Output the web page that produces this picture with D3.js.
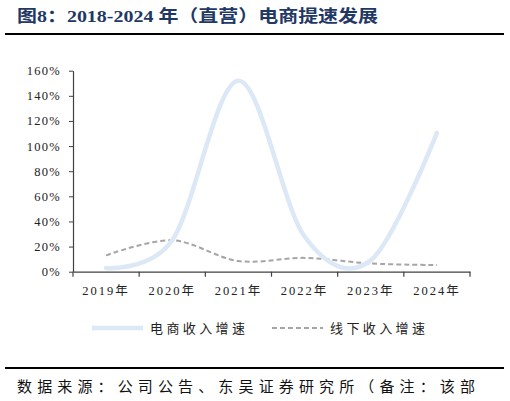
<!DOCTYPE html>
<html>
<head>
<meta charset="utf-8">
<script src="https://cdn.jsdelivr.net/npm/d3@7"></script>
<style>
  body { margin: 0; background: #fff; }
  svg { display: block; }
</style>
</head>
<body>
<div id="chart"></div>
<script>
// 数据
var years = ["2019年", "2020年", "2021年", "2022年", "2023年", "2024年"];
var ecomGrowth = [3, 25, 152, 28, 9, 110.5];     // 电商收入增速 (%)
var offlineGrowth = [13, 25, 8.5, 11, 6.5, 5.3];  // 线下收入增速 (%)
var yTicks = [0, 20, 40, 60, 80, 100, 120, 140, 160];
var seriesNames = ["电商收入增速", "线下收入增速"];

var W = 510, H = 401;
var pLeft = 73, pRight = 470, pTop = 70.7, pBottom = 271.7;
var cjk = "'Noto Sans CJK SC', sans-serif";
var serifNum = "'Liberation Serif', 'Noto Sans CJK SC', serif";

var svg = d3.select("#chart").append("svg").attr("width", W).attr("height", H);

// 标题
svg.append("text")
  .attr("x", 17).attr("y", 22)
  .attr("font-family", serifNum)
  .attr("font-size", 17).attr("font-weight", "bold")
  .attr("fill", "#1f3864")
  .attr("textLength", 361).attr("lengthAdjust", "spacingAndGlyphs")
  .text("图8：2018-2024 年（直营）电商提速发展");

svg.append("line").attr("x1", 5).attr("x2", 504).attr("y1", 34).attr("y2", 34)
  .attr("stroke", "#000").attr("stroke-width", 2);

var x = d3.scaleBand().domain(years).range([pLeft, pRight]);
var y = d3.scaleLinear().domain([0, 160]).range([pBottom, pTop]);

// y 轴
var yAxis = svg.append("g").attr("transform", "translate(" + pLeft + ",0)")
  .call(d3.axisLeft(y).tickValues(yTicks).tickSize(4).tickSizeOuter(0).tickPadding(8)
    .tickFormat(function(d){ return d + "%"; }));
yAxis.select(".domain").attr("stroke", "#404040").attr("stroke-width", 1.2);
yAxis.selectAll(".tick line").attr("stroke", "#404040");
yAxis.selectAll("text")
  .attr("font-family", serifNum).attr("font-size", 12.5).attr("fill", "#222")
  .attr("letter-spacing", 1.3);

// x 轴
var xAxis = svg.append("g").attr("transform", "translate(0," + pBottom + ")")
  .call(d3.axisBottom(x).tickSize(0).tickPadding(14));
xAxis.select(".domain").attr("stroke", "#404040").attr("stroke-width", 1.2);
xAxis.selectAll("text")
  .attr("font-family", serifNum).attr("font-size", 12.5).attr("fill", "#222")
  .attr("letter-spacing", 2);
// 分隔刻度
var bounds = years.map(function(d){ return x(d); }).concat([pRight]);
svg.append("g").selectAll("line").data(bounds).enter().append("line")
  .attr("x1", function(d){ return d; }).attr("x2", function(d){ return d; })
  .attr("y1", pBottom).attr("y2", pBottom + 5)
  .attr("stroke", "#404040").attr("stroke-width", 1.2);

var line = d3.line()
  .x(function(d, i){ return x(years[i]) + x.bandwidth() / 2; })
  .y(function(d){ return y(d); })
  .curve(d3.curveCardinal.tension(0));

svg.append("path").datum(offlineGrowth)
  .attr("d", line).attr("fill", "none")
  .attr("stroke", "#a6a6a6").attr("stroke-width", 2)
  .attr("stroke-dasharray", "5,3");

svg.append("path").datum(ecomGrowth)
  .attr("d", line).attr("fill", "none")
  .attr("stroke", "#dce8f6").attr("stroke-width", 4.5)
  .attr("stroke-linecap", "round");

// 图例
var lg = svg.append("g");
lg.append("line").attr("x1", 92).attr("x2", 143).attr("y1", 328).attr("y2", 328)
  .attr("stroke", "#dce8f6").attr("stroke-width", 4.5);
lg.append("text").attr("x", 150).attr("y", 333)
  .attr("font-family", cjk).attr("font-size", 13).attr("fill", "#222")
  .attr("textLength", 95).attr("lengthAdjust", "spacing")
  .text(seriesNames[0]);
lg.append("line").attr("x1", 272).attr("x2", 323).attr("y1", 328).attr("y2", 328)
  .attr("stroke", "#a6a6a6").attr("stroke-width", 2).attr("stroke-dasharray", "5,3");
lg.append("text").attr("x", 330).attr("y", 333)
  .attr("font-family", cjk).attr("font-size", 13).attr("fill", "#222")
  .attr("textLength", 95).attr("lengthAdjust", "spacing")
  .text(seriesNames[1]);

// 底部
svg.append("line").attr("x1", 5).attr("x2", 504).attr("y1", 368).attr("y2", 368)
  .attr("stroke", "#000").attr("stroke-width", 2);
svg.append("text").attr("x", 17).attr("y", 392)
  .attr("font-family", cjk).attr("font-size", 15).attr("fill", "#111")
  .attr("textLength", 458).attr("lengthAdjust", "spacing")
  .text("数据来源：公司公告、东吴证券研究所（备注：该部");
</script>
</body>
</html>
